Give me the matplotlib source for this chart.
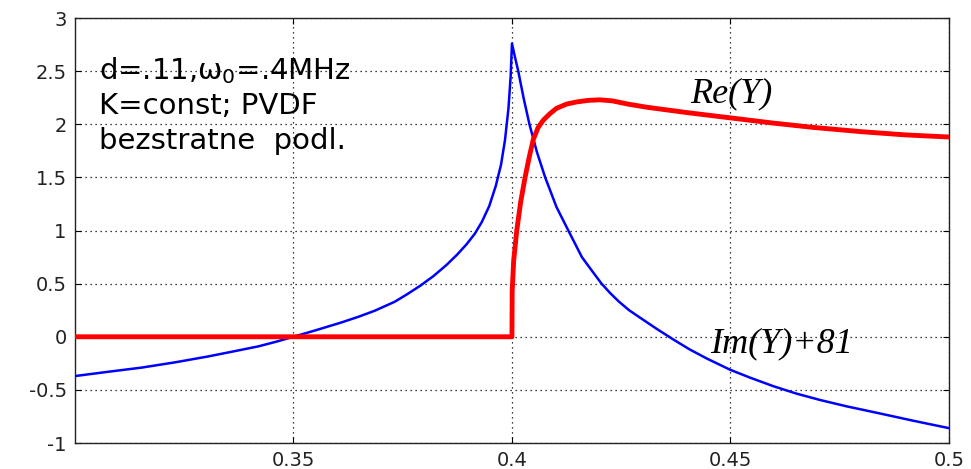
import numpy as np
import matplotlib
matplotlib.use("Agg")
import matplotlib.pyplot as plt

# Im(Y)+81 (blue)
im_x = [0.300, 0.3075, 0.3153, 0.323, 0.3305, 0.336, 0.342, 0.346, 0.350,
        0.355, 0.361, 0.365, 0.3686, 0.3732, 0.376, 0.379, 0.382, 0.385,
        0.3875, 0.3896, 0.3915, 0.3931, 0.3948, 0.3963, 0.3975, 0.3984,
        0.3992, 0.3997, 0.400,
        0.4007, 0.40144, 0.4027, 0.4040, 0.4057, 0.4076, 0.4102, 0.4129,
        0.4160, 0.4185, 0.4205, 0.4225, 0.4245, 0.4268, 0.4293, 0.4331,
        0.4369, 0.4407, 0.4446, 0.4499, 0.4545, 0.4598, 0.4651, 0.4705,
        0.4766, 0.484, 0.4918, 0.500]
im_y = [-0.37, -0.33, -0.29, -0.24, -0.185, -0.14, -0.09, -0.047, 0.00,
        0.06, 0.135, 0.19, 0.245, 0.33, 0.40, 0.48, 0.57, 0.675,
        0.775, 0.87, 0.97, 1.08, 1.23, 1.42, 1.62, 1.85,
        2.15, 2.45, 2.76,
        2.63, 2.50, 2.24, 2.00, 1.74, 1.50, 1.22, 1.00,
        0.75, 0.61, 0.50, 0.41, 0.33, 0.25, 0.18, 0.075,
        -0.025, -0.12, -0.205, -0.31, -0.385, -0.465, -0.535, -0.595,
        -0.655, -0.72, -0.79, -0.86]

# Re(Y) (red)
re_x = [0.300, 0.400, 0.40005, 0.4004, 0.4011, 0.4020, 0.4030, 0.4040, 0.4049,
        0.4060, 0.4072, 0.4087, 0.4102, 0.4125, 0.4148, 0.4175, 0.4201, 0.4230,
        0.4265, 0.4309, 0.440, 0.450, 0.460, 0.469, 0.480, 0.490, 0.500]
re_y = [0.0, 0.0, 0.43, 0.72, 1.00, 1.27, 1.50, 1.70, 1.86,
        1.97, 2.04, 2.10, 2.15, 2.19, 2.21, 2.225, 2.23, 2.22,
        2.19, 2.16, 2.11, 2.06, 2.01, 1.97, 1.93, 1.90, 1.88]

x_ticks = [0.35, 0.4, 0.45, 0.5]
x_labels = ["0.35", "0.4", "0.45", "0.5"]
y_ticks = [-1, -0.5, 0, 0.5, 1, 1.5, 2, 2.5, 3]
y_labels = ["-1", "-0.5", "0", "0.5", "1", "1.5", "2", "2.5", "3"]

plt.rcParams["mathtext.fontset"] = "custom"
plt.rcParams["mathtext.rm"] = "DejaVu Sans"
plt.rcParams["mathtext.it"] = "DejaVu Sans"

fig = plt.figure(figsize=(9.71, 4.69), dpi=100)
ax = fig.add_axes([0.0772, 0.0554, 0.9001, 0.9062])

ax.plot(im_x, im_y, color="blue", linewidth=1.8, zorder=3)
ax.plot(re_x, re_y, color="red", linewidth=3.5, zorder=4)

ax.set_xlim(0.3, 0.5)
ax.set_ylim(-1, 3)
ax.set_xticks(x_ticks)
ax.set_xticklabels(x_labels)
ax.set_yticks(y_ticks)
ax.set_yticklabels(y_labels)
ax.tick_params(direction="in", top=True, right=True, length=4, labelsize=14,
               labelcolor="#222222", pad=6)
for lab in ax.get_xticklabels() + ax.get_yticklabels():
    lab.set_family("DejaVu Sans")
ax.grid(True, color="black", linestyle=(0, (1, 3)), linewidth=0.9)
for s in ax.spines.values():
    s.set_linewidth(1.0)
    s.set_color("#222222")

txt = dict(fontsize=21, family="DejaVu Sans", color="black", va="baseline", ha="left")
ax.text(0.3055, 2.42, r"d=.11,$\omega_0$=.4MHz", **txt)
ax.text(0.3055, 2.10, "K=const; PVDF", **txt)
ax.text(0.3055, 1.77, "bezstratne  podl.", **txt)

ax.text(0.4501, 2.21, "Re(Y)", fontsize=26, family="Liberation Serif",
        style="italic", ha="center", va="baseline")
ax.text(0.4453, -0.15, "Im(Y)+81", fontsize=26, family="Liberation Serif",
        style="italic", ha="left", va="baseline")

fig.savefig("out.png", dpi=100)
